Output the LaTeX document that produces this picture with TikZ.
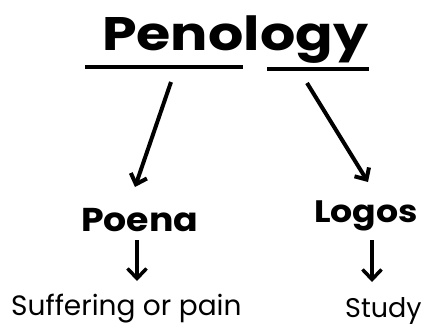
\documentclass[tikz,border=0pt]{standalone}
\usepackage{fontspec}
\setmainfont{Poppins}
\usetikzlibrary{arrows.meta}
\begin{document}
\begin{tikzpicture}[x=1pt,y=-1pt,
  title/.style={font=\fontsize{47}{50}\selectfont\bfseries\addfontfeatures{FakeStretch=1.18}, inner sep=0pt, anchor=base west},
  word/.style={font=\fontsize{33}{36}\selectfont\bfseries\addfontfeatures{FakeStretch=1.1}, inner sep=0pt, anchor=base west},
  meaning/.style={font=\fontsize{28}{32}\selectfont, inner sep=0pt, anchor=base west},
  rule/.style={line width=3.5pt},
  bigarrow/.style={line width=4pt, -{Straight Barb[length=9pt,width=17pt,line width=4pt]}},
  smallarrow/.style={line width=3.5pt, -{Straight Barb[length=10pt,width=19pt,line width=3.5pt]}}]
\useasboundingbox (0,0) rectangle (425,325);
\node[title] (pen) at (102,50) {Penology};
\coordinate (l1) at (85,67);
\coordinate (l2) at (243,67);
\coordinate (r1) at (267,69);
\coordinate (r2) at (369,69);
\draw[rule] (l1) -- (l2);
\draw[rule] (r1) -- (r2);
\coordinate (a1) at (171,82);
\coordinate (a2) at (135,187);
\coordinate (b1) at (307,83);
\coordinate (b2) at (368,182);
\node[word] (poena) at (81,231) {Poena};
\node[word, font=\fontsize{31}{34}\selectfont\bfseries\addfontfeatures{FakeStretch=1.12}] (logos) at (314,222) {Logos};
\draw[bigarrow] (a1) -- (a2);
\draw[bigarrow] (b1) -- (b2);
\node[meaning] (suf) at (11,315) {Suffering or pain};
\node[meaning, font=\fontsize{27}{30}\selectfont] (study) at (345,317) {Study};
\coordinate (p1) at (137,240);
\coordinate (p2) at (137,281);
\coordinate (s1) at (372,240);
\coordinate (s2) at (372,282);
\draw[smallarrow] (p1) -- (p2);
\draw[smallarrow] (s1) -- (s2);
\end{tikzpicture}
\end{document}
